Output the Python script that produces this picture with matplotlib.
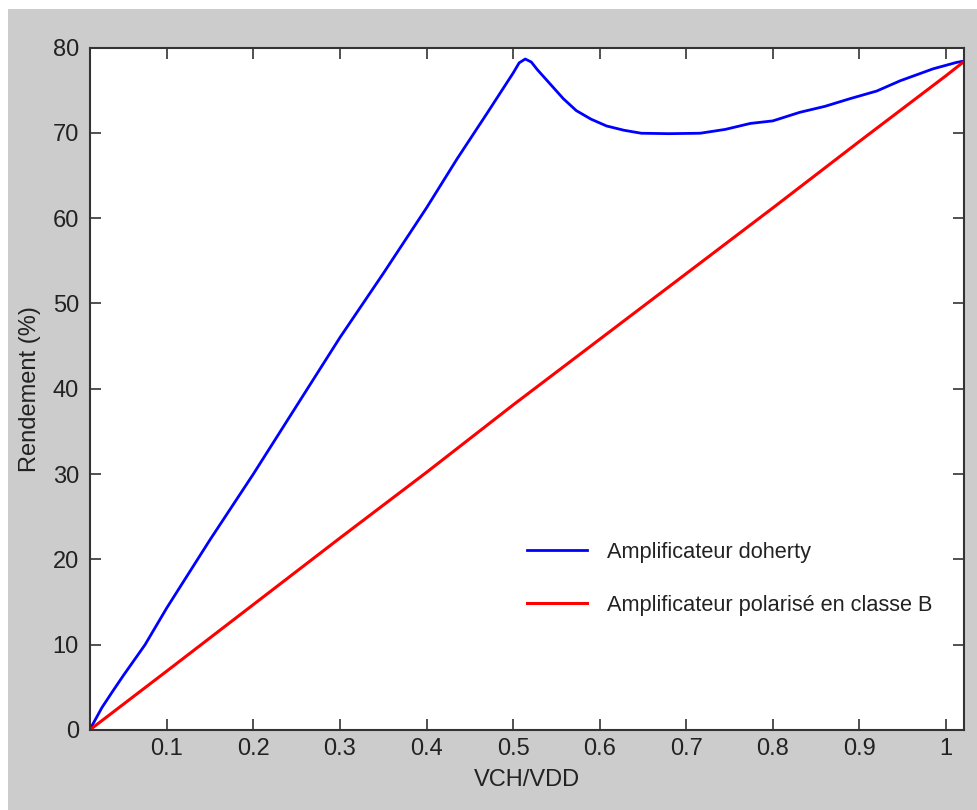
import matplotlib
matplotlib.use('Agg')
import matplotlib.pyplot as plt
from matplotlib.patches import Rectangle
from matplotlib.ticker import FormatStrFormatter

# values
doherty_x = [0.011, 0.025, 0.038, 0.05, 0.075, 0.1, 0.15, 0.2, 0.25, 0.3, 0.35, 0.4,
             0.435, 0.47, 0.5, 0.507, 0.514, 0.521, 0.528, 0.543, 0.558, 0.573, 0.59,
             0.608, 0.628, 0.648, 0.68, 0.716, 0.745, 0.774, 0.80, 0.831, 0.86, 0.889,
             0.92, 0.947, 0.985, 1.012, 1.02]
doherty_y = [0, 2.6, 4.6, 6.4, 10.0, 14.3, 22.3, 30.0, 38.0, 46.0, 53.5, 61.2,
             66.9, 72.3, 77.0, 78.2, 78.65, 78.3, 77.4, 75.7, 74.0, 72.6, 71.6,
             70.8, 70.3, 69.95, 69.9, 69.95, 70.4, 71.1, 71.4, 72.4, 73.1, 74.0,
             74.9, 76.1, 77.5, 78.25, 78.4]

classb_x = [0.011, 0.1, 0.2, 0.3, 0.4, 0.5, 0.6, 0.7, 0.8, 0.9, 1.0, 1.02]
classb_y = [0, 6.9, 14.7, 22.5, 30.2, 38.1, 45.8, 53.5, 61.2, 69.0, 76.7, 78.3]

labels = ['Amplificateur doherty', 'Amplificateur polaris\u00e9 en classe B']
x_ticks = [0.1, 0.2, 0.3, 0.4, 0.5, 0.6, 0.7, 0.8, 0.9, 1.0]
y_ticks = [0, 10, 20, 30, 40, 50, 60, 70, 80]

plt.rcParams['font.family'] = ['Liberation Sans', 'DejaVu Sans']

W, H = 977, 810
fig = plt.figure(figsize=(W / 100, H / 100), dpi=100, facecolor='white')
# grey matlab-like window, small white margin on left/top
fig.patches.append(Rectangle((8 / W, 0), 1, 1 - 9 / H, transform=fig.transFigure,
                             facecolor='#cccccc', edgecolor='none', zorder=-10))

ax = fig.add_axes([90 / W, 1 - 730 / H, (964 - 90) / W, (730 - 47.5) / H])
ax.set_facecolor('white')

ax.plot(doherty_x, doherty_y, color='#0000ff', linewidth=2.0, label=labels[0])
ax.plot(classb_x, classb_y, color='#ff0000', linewidth=2.2, label=labels[1])

ax.set_xlim(0.0114, 1.0207)
ax.set_ylim(0, 80)
ax.set_xticks(x_ticks)
ax.set_yticks(y_ticks)
ax.xaxis.set_major_formatter(FormatStrFormatter('%g'))
ax.tick_params(direction='in', length=8, width=1.2, color='#333333',
               top=True, right=True, labelsize=17, labelcolor='#222222')
ax.tick_params(axis='x', pad=6)
ax.tick_params(axis='y', pad=8)
for s in ax.spines.values():
    s.set_color('#333333')
    s.set_linewidth(1.5)

ax.set_xlabel('VCH/VDD', fontsize=17, color='#222222', labelpad=6)
ax.set_ylabel('Rendement (%)', fontsize=17, color='#222222', labelpad=8)

leg = ax.legend(loc='upper left', bbox_to_anchor=(0.5, 0.276), frameon=False,
                fontsize=15.7, handlelength=2.75, handletextpad=0.92,
                labelspacing=1.48, borderpad=0, borderaxespad=0)
for t in leg.get_texts():
    t.set_color('#222222')

fig.savefig('out.png', dpi=100, facecolor=fig.get_facecolor())
